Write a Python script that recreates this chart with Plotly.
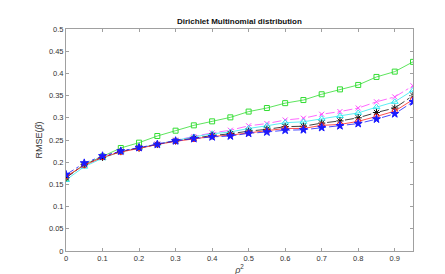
import plotly.graph_objects as go

x_vals = [0, 0.05, 0.1, 0.15, 0.2, 0.25, 0.3, 0.35, 0.4, 0.45, 0.5, 0.55, 0.6, 0.65, 0.7, 0.75, 0.8, 0.85, 0.9, 0.95]

green_sq = [0.165, 0.195, 0.213, 0.232, 0.244, 0.259, 0.271, 0.283, 0.292, 0.301, 0.314, 0.322, 0.333, 0.340, 0.353, 0.364, 0.374, 0.392, 0.404, 0.426]
magenta_x = [0.165, 0.195, 0.212, 0.225, 0.232, 0.241, 0.250, 0.258, 0.266, 0.272, 0.282, 0.287, 0.295, 0.299, 0.308, 0.314, 0.322, 0.336, 0.347, 0.372]
cyan_tri = [0.160, 0.190, 0.209, 0.224, 0.232, 0.241, 0.249, 0.257, 0.264, 0.268, 0.276, 0.282, 0.289, 0.291, 0.298, 0.304, 0.311, 0.324, 0.336, 0.362]
black_ast = [0.165, 0.195, 0.211, 0.224, 0.232, 0.240, 0.248, 0.254, 0.260, 0.264, 0.270, 0.274, 0.280, 0.281, 0.288, 0.293, 0.300, 0.312, 0.322, 0.350]
red_circ = [0.168, 0.193, 0.211, 0.223, 0.231, 0.240, 0.247, 0.252, 0.258, 0.261, 0.266, 0.270, 0.276, 0.276, 0.283, 0.285, 0.292, 0.303, 0.315, 0.341]
blue_star = [0.172, 0.198, 0.214, 0.225, 0.233, 0.240, 0.248, 0.253, 0.257, 0.259, 0.265, 0.268, 0.272, 0.273, 0.278, 0.282, 0.287, 0.297, 0.309, 0.336]

x_ticks = [0, 0.1, 0.2, 0.3, 0.4, 0.5, 0.6, 0.7, 0.8, 0.9]
x_tick_text = ["0", "0.1", "0.2", "0.3", "0.4", "0.5", "0.6", "0.7", "0.8", "0.9"]
y_ticks = [0, 0.05, 0.1, 0.15, 0.2, 0.25, 0.3, 0.35, 0.4, 0.45, 0.5]
y_tick_text = ["0", "0.05", "0.1", "0.15", "0.2", "0.25", "0.3", "0.35", "0.4", "0.45", "0.5"]

series = [
    (green_sq, "#33dd33", "solid", "square-open", 5),
    (magenta_x, "#ff44ff", "dashdot", "x-thin-open", 5),
    (cyan_tri, "#33e8f0", "solid", "triangle-up-open", 6),
    (black_ast, "#111111", "dashdot", "asterisk-open", 6),
    (red_circ, "#ff2222", "solid", "circle-open", 5),
    (blue_star, "#1a1aff", "dashdot", "star", 6),
]

fig = go.Figure()
for ys, col, dash, sym, sz in series:
    fig.add_trace(go.Scatter(
        x=x_vals, y=ys, mode="lines+markers",
        line=dict(color=col, width=0.8, dash=dash),
        marker=dict(symbol=sym, size=sz, color=col, line=dict(color=col, width=1)),
        showlegend=False,
    ))

axis_common = dict(
    showline=True, linecolor="#a0a0a0", linewidth=1, mirror="ticks",
    ticks="inside", ticklen=3, tickcolor="#a0a0a0", tickwidth=1,
    showgrid=False, zeroline=False,
    tickfont=dict(family="Liberation Sans, Arial", size=7.5, color="#333333"),
)

fig.update_layout(
    width=445, height=274,
    margin=dict(l=58, r=40, t=21, b=31),
    paper_bgcolor="white", plot_bgcolor="white",
    title=dict(text="<b>Dirichlet Multinomial distribution</b>", x=0.52, xanchor="center",
               y=0.953, yanchor="middle",
               font=dict(family="Liberation Sans, Arial", size=8, color="#111111")),
    xaxis=dict(range=[0, 0.95], tickvals=x_ticks, ticktext=x_tick_text,
               title=dict(text="<i>ρ</i><sup>2</sup>", standoff=2,
                          font=dict(family="Liberation Sans, Arial", size=9, color="#333333")),
               **axis_common),
    yaxis=dict(range=[0, 0.5], tickvals=y_ticks, ticktext=y_tick_text,
               title=dict(text="RMSE(<i>β</i>)", standoff=4,
                          font=dict(family="Liberation Sans, Arial", size=9, color="#333333")),
               **axis_common),
)

fig.write_html("out.html")
